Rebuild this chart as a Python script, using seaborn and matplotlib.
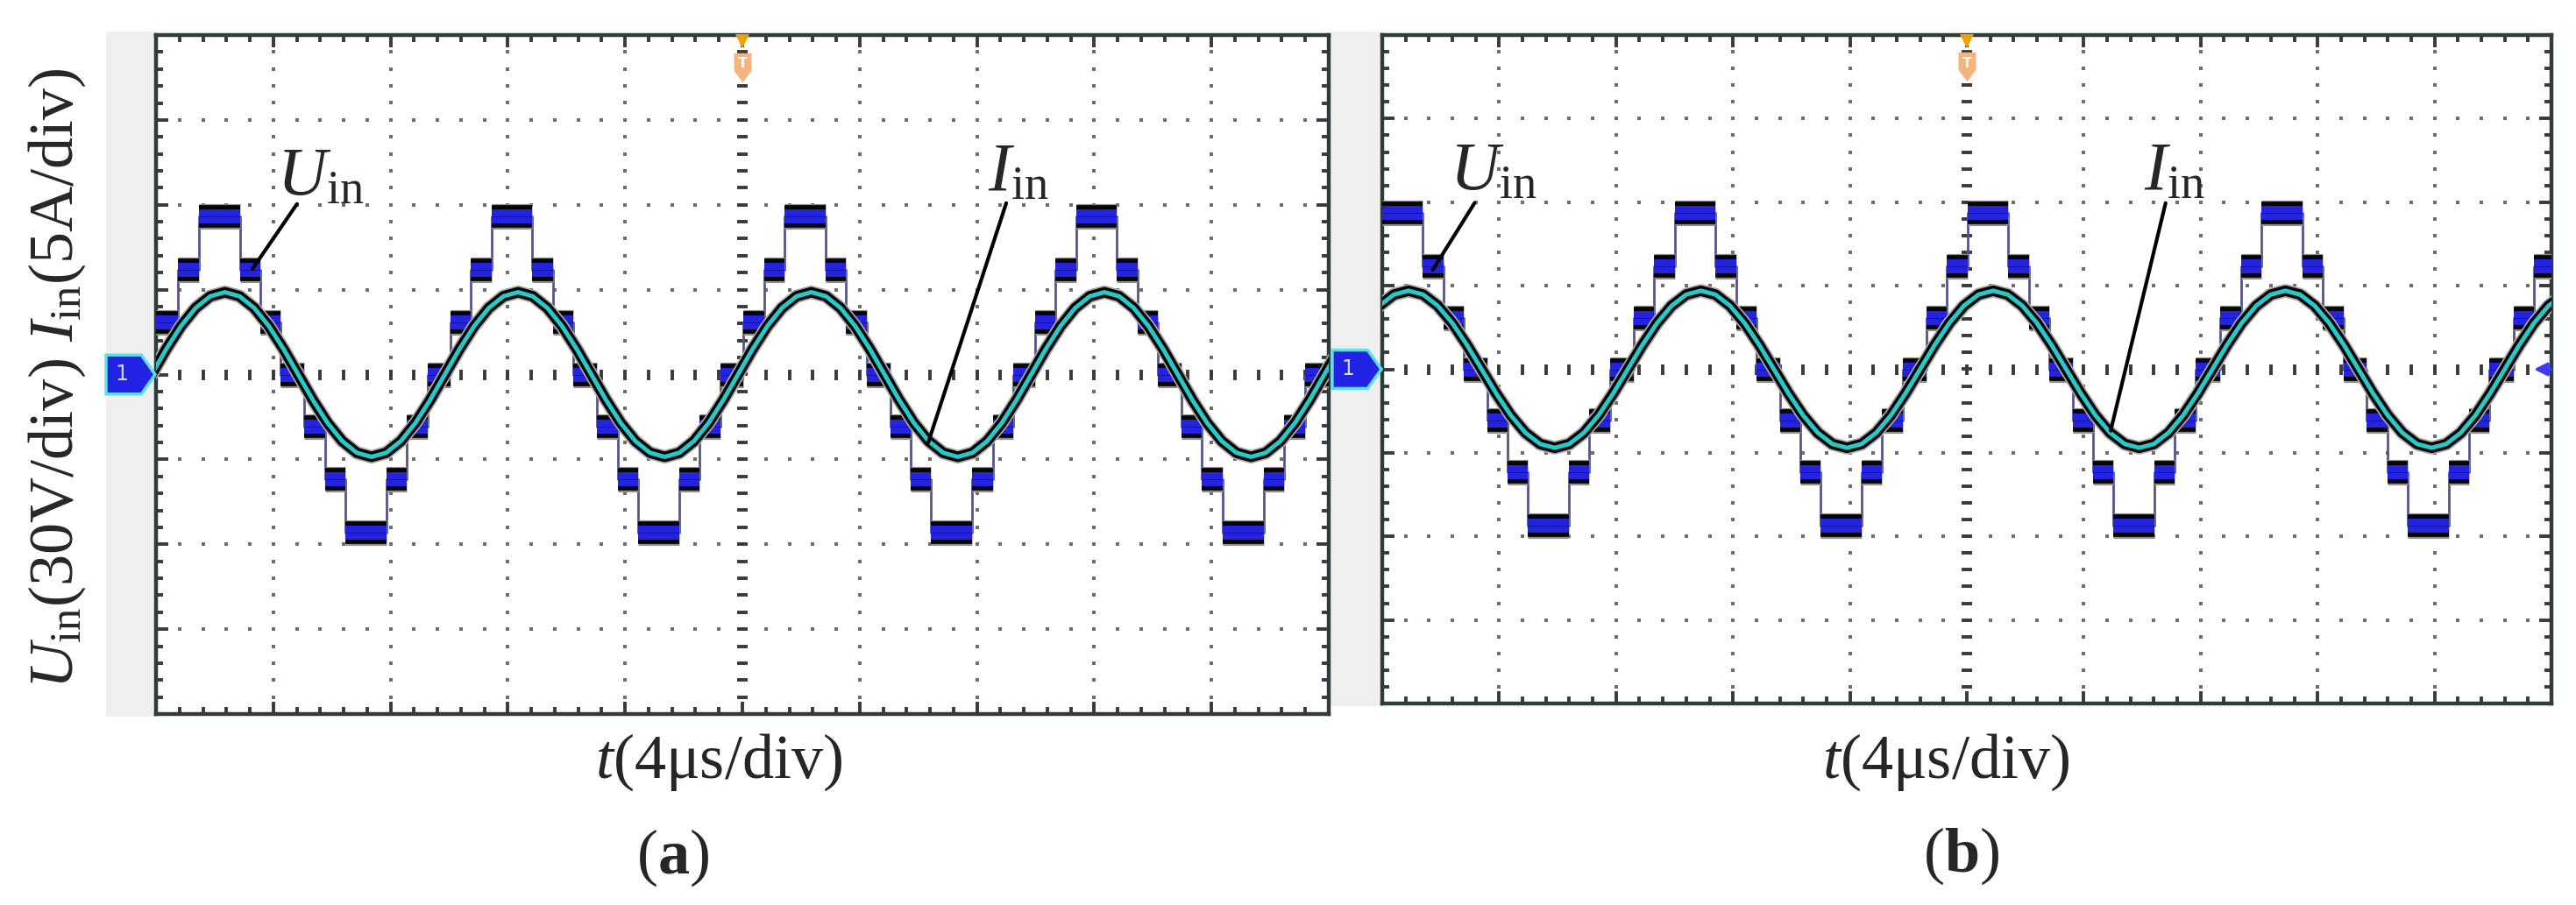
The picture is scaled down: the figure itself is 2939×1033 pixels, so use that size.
import numpy as np
import matplotlib
matplotlib.use('Agg')
import matplotlib.pyplot as plt
import matplotlib.transforms as mtransforms
import seaborn as sns
from matplotlib.patches import Rectangle, Polygon
from matplotlib.ticker import MultipleLocator

# scope settings
V_PER_DIV = 30.0
A_PER_DIV = 5.0

# ---- (a) input voltage staircase: switching instants (us) and level after each (V)
uin_a_t = [0.00,
           0.76, 1.46, 2.86, 3.56, 4.26, 5.06, 5.76, 6.46, 7.86, 8.56, 9.26, 10.04,
           10.74, 11.44, 12.84, 13.54, 14.24, 15.04, 15.74, 16.44, 17.84, 18.54, 19.24, 20.04,
           20.74, 21.44, 22.84, 23.54, 24.24, 25.04, 25.74, 26.44, 27.84, 28.54, 29.24, 29.98,
           30.68, 31.38, 32.78, 33.48, 34.18, 34.98, 35.68, 36.38, 37.78, 38.48, 39.18,
           40.00]
uin_a_v = [18.5,
           37, 56, 37, 18.5, 0, -18.5, -37, -56, -37, -18.5, 0, 18.5,
           37, 56, 37, 18.5, 0, -18.5, -37, -56, -37, -18.5, 0, 18.5,
           37, 56, 37, 18.5, 0, -18.5, -37, -56, -37, -18.5, 0, 18.5,
           37, 56, 37, 18.5, 0, -18.5, -37, -56, -37, -18.5, 0,
           0]

# ---- (a) input current samples (us, A)
iin_a_t = [-0.15, 0.35, 0.85, 1.35, 1.85, 2.35, 2.85, 3.35, 3.85, 4.35,
           4.85, 5.35, 5.85, 6.35, 6.85, 7.35, 7.85, 8.35, 8.85, 9.35,
           9.85, 10.35, 10.85, 11.35, 11.85, 12.35, 12.85, 13.35, 13.85, 14.35,
           14.85, 15.35, 15.85, 16.35, 16.85, 17.35, 17.85, 18.35, 18.85, 19.35,
           19.85, 20.35, 20.85, 21.35, 21.85, 22.35, 22.85, 23.35, 23.85, 24.35,
           24.85, 25.35, 25.85, 26.35, 26.85, 27.35, 27.85, 28.35, 28.85, 29.35,
           29.85, 30.35, 30.85, 31.35, 31.85, 32.35, 32.85, 33.35, 33.85, 34.35,
           34.85, 35.35, 35.85, 36.35, 36.85, 37.35, 37.85, 38.35, 38.85, 39.35,
           39.85, 40.35]
iin_a_v = [0, 1.50, 2.85, 3.92, 4.61, 4.85, 4.61, 3.92, 2.85, 1.50,
           0, -1.50, -2.85, -3.92, -4.61, -4.85, -4.61, -3.92, -2.85, -1.50,
           0, 1.50, 2.85, 3.92, 4.61, 4.85, 4.61, 3.92, 2.85, 1.50,
           0, -1.50, -2.85, -3.92, -4.61, -4.85, -4.61, -3.92, -2.85, -1.50,
           0, 1.50, 2.85, 3.92, 4.61, 4.85, 4.61, 3.92, 2.85, 1.50,
           0, -1.50, -2.85, -3.92, -4.61, -4.85, -4.61, -3.92, -2.85, -1.50,
           0, 1.50, 2.85, 3.92, 4.61, 4.85, 4.61, 3.92, 2.85, 1.50,
           0, -1.50, -2.85, -3.92, -4.61, -4.85, -4.61, -3.92, -2.85, -1.50,
           0, 1.50]

# ---- (b) input voltage staircase
uin_b_t = [0.00,
           1.39, 2.09, 2.79, 3.59, 4.29, 4.99, 6.39, 7.09, 7.79, 8.60, 9.30, 10.00,
           11.40, 12.10, 12.80, 13.60, 14.30, 15.00, 16.40, 17.10, 17.80, 18.62, 19.32, 20.02,
           21.42, 22.12, 22.82, 23.62, 24.32, 25.02, 26.42, 27.12, 27.82, 28.68, 29.38, 30.08,
           31.48, 32.18, 32.88, 33.68, 34.38, 35.08, 36.48, 37.18, 37.88, 38.70, 39.40,
           40.00]
uin_b_v = [56,
           37, 18.5, 0, -18.5, -37, -56, -37, -18.5, 0, 18.5, 37, 56,
           37, 18.5, 0, -18.5, -37, -56, -37, -18.5, 0, 18.5, 37, 56,
           37, 18.5, 0, -18.5, -37, -56, -37, -18.5, 0, 18.5, 37, 56,
           37, 18.5, 0, -18.5, -37, -56, -37, -18.5, 0, 18.5, 37,
           37]

# ---- (b) input current samples
iin_b_t = [-0.10, 0.40, 0.90, 1.40, 1.90, 2.40, 2.90, 3.40, 3.90, 4.40,
           4.90, 5.40, 5.90, 6.40, 6.90, 7.40, 7.90, 8.40, 8.90, 9.40,
           9.90, 10.40, 10.90, 11.40, 11.90, 12.40, 12.90, 13.40, 13.90, 14.40,
           14.90, 15.40, 15.90, 16.40, 16.90, 17.40, 17.90, 18.40, 18.90, 19.40,
           19.90, 20.40, 20.90, 21.40, 21.90, 22.40, 22.90, 23.40, 23.90, 24.40,
           24.90, 25.40, 25.90, 26.40, 26.90, 27.40, 27.90, 28.40, 28.90, 29.40,
           29.90, 30.40, 30.90, 31.40, 31.90, 32.40, 32.90, 33.40, 33.90, 34.40,
           34.90, 35.40, 35.90, 36.40, 36.90, 37.40, 37.90, 38.40, 38.90, 39.40,
           39.90, 40.40]
iin_b_v = [3.80, 4.47, 4.70, 4.47, 3.80, 2.76, 1.45, 0, -1.45, -2.76,
           -3.80, -4.47, -4.70, -4.47, -3.80, -2.76, -1.45, 0, 1.45, 2.76,
           3.80, 4.47, 4.70, 4.47, 3.80, 2.76, 1.45, 0, -1.45, -2.76,
           -3.80, -4.47, -4.70, -4.47, -3.80, -2.76, -1.45, 0, 1.45, 2.76,
           3.80, 4.47, 4.70, 4.47, 3.80, 2.76, 1.45, 0, -1.45, -2.76,
           -3.80, -4.47, -4.70, -4.47, -3.80, -2.76, -1.45, 0, 1.45, 2.76,
           3.80, 4.47, 4.70, 4.47, 3.80, 2.76, 1.45, 0, -1.45, -2.76,
           -3.80, -4.47, -4.70, -4.47, -3.80, -2.76, -1.45, 0, 1.45, 2.76,
           3.80, 4.47]

sns.set_theme(style='white')
plt.rcParams['font.family'] = ['Liberation Serif', 'DejaVu Serif']
plt.rcParams['mathtext.fontset'] = 'custom'
plt.rcParams['mathtext.rm'] = 'Liberation Serif'
plt.rcParams['mathtext.it'] = 'Liberation Serif:italic'
plt.rcParams['mathtext.bf'] = 'Liberation Serif:bold'

W, H, DPI = 2939, 1033, 100
fig = plt.figure(figsize=(W / DPI, H / DPI), dpi=DPI, facecolor='white')


def px_rect(l, t, r, b):
    return [l / W, 1 - b / H, (r - l) / W, (b - t) / H]


ax_a = fig.add_axes(px_rect(178, 40, 1516, 815))
ax_b = fig.add_axes(px_rect(1577, 40, 2911, 803))

# grey side strips of the scope screenshots
for l, t, r, b in [(121, 36, 178, 818), (1518, 36, 1577, 806)]:
    fig.add_artist(Rectangle((l / W, 1 - b / H), (r - l) / W, (b - t) / H,
                             transform=fig.transFigure, facecolor='#efefef',
                             edgecolor='none', zorder=-1))


def draw_panel(ax, uin_t, uin_v, iin_t, iin_v, ch_px):
    # dotted graticule
    xs = np.arange(0, 40.001, 0.8)
    ys = np.arange(-4, 4.001, 0.2)
    for gx in [4, 8, 12, 16, 24, 28, 32, 36]:
        ax.plot(np.full_like(ys, gx), ys, ls='none', marker='s', ms=3.3, mew=0,
                color='#6e6e6e', zorder=1)
    for gy in [-3, -2, -1, 1, 2, 3]:
        ax.plot(xs, np.full_like(xs, gy), ls='none', marker='s', ms=3.3, mew=0,
                color='#6e6e6e', zorder=1)
    ax.plot(xs, np.zeros_like(xs), ls='none', marker='|', ms=8, mew=2.8,
            color='#3a3a3a', zorder=1)
    ax.plot(np.full_like(ys, 20), ys, ls='none', marker='_', ms=8, mew=2.8,
            color='#3a3a3a', zorder=1)

    # Uin: thin staircase edges + thick plateaus
    yu = np.array(uin_v) / V_PER_DIV
    sns.lineplot(x=uin_t, y=yu, ax=ax, drawstyle='steps-post', color='#55558a',
                 linewidth=2.0, estimator=None, sort=False, legend=False, zorder=3)
    for col, lw, z in [('#8e8e8e', 21, 4), ('#050505', 18.5, 5), ('#2424e0', 11.5, 6)]:
        ax.hlines(yu[:-1], uin_t[:-1], uin_t[1:], colors=col, lw=lw, zorder=z)
    ax.hlines(yu[:-1], uin_t[:-1], uin_t[1:], colors='#1414a8', lw=0.8, zorder=6.5)

    # Iin
    yi = np.array(iin_v) / A_PER_DIV
    for col, lw, z in [('#a8a8a8', 11, 7), ('#000000', 8.5, 8), ('#27c8c8', 3.6, 9)]:
        sns.lineplot(x=iin_t, y=yi, ax=ax, color=col, linewidth=lw, estimator=None,
                     sort=False, legend=False, zorder=z)

    # frame and ticks
    ax.set_facecolor('white')
    for s in ax.spines.values():
        s.set_visible(True)
        s.set_color('#2f3c3c')
        s.set_linewidth(3.2)
    ax.xaxis.set_major_locator(MultipleLocator(4))
    ax.xaxis.set_minor_locator(MultipleLocator(0.8))
    ax.yaxis.set_major_locator(MultipleLocator(1))
    ax.yaxis.set_minor_locator(MultipleLocator(0.2))
    ax.tick_params(which='both', direction='in', top=True, right=True, bottom=True,
                   left=True, labelbottom=False, labelleft=False, color='#3a3a3a',
                   width=2.8)
    ax.tick_params(which='major', length=10)
    ax.tick_params(which='minor', length=6)
    ax.set_xlabel('')
    ax.set_ylabel('')

    # trigger marker at top centre
    ax.plot([20], [3.93], marker='v', ms=11, color='#f1a200', mew=0, clip_on=False, zorder=12)
    shield = [(-0.6, 1), (0.6, 1), (0.6, -0.2), (0, -1), (-0.6, -0.2), (-0.6, 1)]
    ax.plot([20], [3.62], marker=shield, ms=24, color='#f4b47c', mew=0, clip_on=False, zorder=12)
    ax.text(20, 3.66, 'T', color='white', fontsize=11, ha='center', va='center',
            family='DejaVu Sans', fontweight='bold', zorder=13)

    # channel-1 marker left of the screen
    trans = mtransforms.blended_transform_factory(fig.transFigure, ax.transData)
    x0, x1 = ch_px[0] / W, ch_px[1] / W
    h = 0.23
    xm = x0 + 0.72 * (x1 - x0)
    fig.add_artist(Polygon([(x0, -h), (xm, -h), (x1, 0), (xm, h), (x0, h)], closed=True,
                           transform=trans, facecolor='#2323e6', edgecolor='#5ce0e8',
                           lw=2.5, zorder=2))
    fig.text(x0 + 0.32 * (x1 - x0), 0, '1', transform=trans, color='#d8d8ff',
             fontsize=17, ha='center', va='center', family='DejaVu Sans', zorder=3)

    ax.set_xlim(0, 40)
    ax.set_ylim(-4, 4)


draw_panel(ax_a, uin_a_t, uin_a_v, iin_a_t, iin_a_v, (121, 177))
draw_panel(ax_b, uin_b_t, uin_b_v, iin_b_t, iin_b_v, (1520, 1576))

ax_b.annotate('', xy=(0.985, 0.5), xytext=(1.0, 0.5), xycoords='axes fraction',
              arrowprops=dict(arrowstyle='-|>', color='#3a3aff', lw=2.5,
                              mutation_scale=22, shrinkA=0, shrinkB=0), zorder=12)

# trace labels with leader lines
lead = dict(arrowstyle='-', color='black', lw=3, shrinkA=0, shrinkB=0)
ax_a.text(5.62, 2.12, r'$U_{\mathrm{in}}$', ha='center', va='baseline', fontsize=56, zorder=15)
ax_a.annotate('', xy=(3.29, 1.245), xytext=(4.81, 2.01), arrowprops=lead, zorder=15)
ax_a.text(29.4, 2.17, r'$I_{\mathrm{in}}$', ha='center', va='baseline', fontsize=56, zorder=15)
ax_a.annotate('', xy=(26.34, -0.80), xytext=(29.0, 2.02), arrowprops=lead, zorder=15)
ax_b.text(3.80, 2.15, r'$U_{\mathrm{in}}$', ha='center', va='baseline', fontsize=56, zorder=15)
ax_b.annotate('', xy=(1.73, 1.19), xytext=(3.16, 1.99), arrowprops=lead, zorder=15)
ax_b.text(27.1, 2.15, r'$I_{\mathrm{in}}$', ha='center', va='baseline', fontsize=56, zorder=15)
ax_b.annotate('', xy=(24.92, -0.735), xytext=(26.8, 1.99), arrowprops=lead, zorder=15)

# axis captions
fig.text(65 / W, 1 - 432 / H, r'$U_{\mathrm{in}}$(30V/div) $I_{\mathrm{in}}$(5A/div)',
         rotation=90, ha='center', va='center', fontsize=52)
fig.text(820 / W, 1 - 888 / H, r'$t$(4μs/div)', ha='center', va='baseline', fontsize=52)
fig.text(2220 / W, 1 - 888 / H, r'$t$(4μs/div)', ha='center', va='baseline', fontsize=52)
fig.text(768 / W, 1 - 997 / H, r'($\mathbf{a}$)', ha='center', va='baseline', fontsize=52)
fig.text(2238 / W, 1 - 995 / H, r'($\mathbf{b}$)', ha='center', va='baseline', fontsize=52)

plt.savefig('out.png', dpi=DPI)
